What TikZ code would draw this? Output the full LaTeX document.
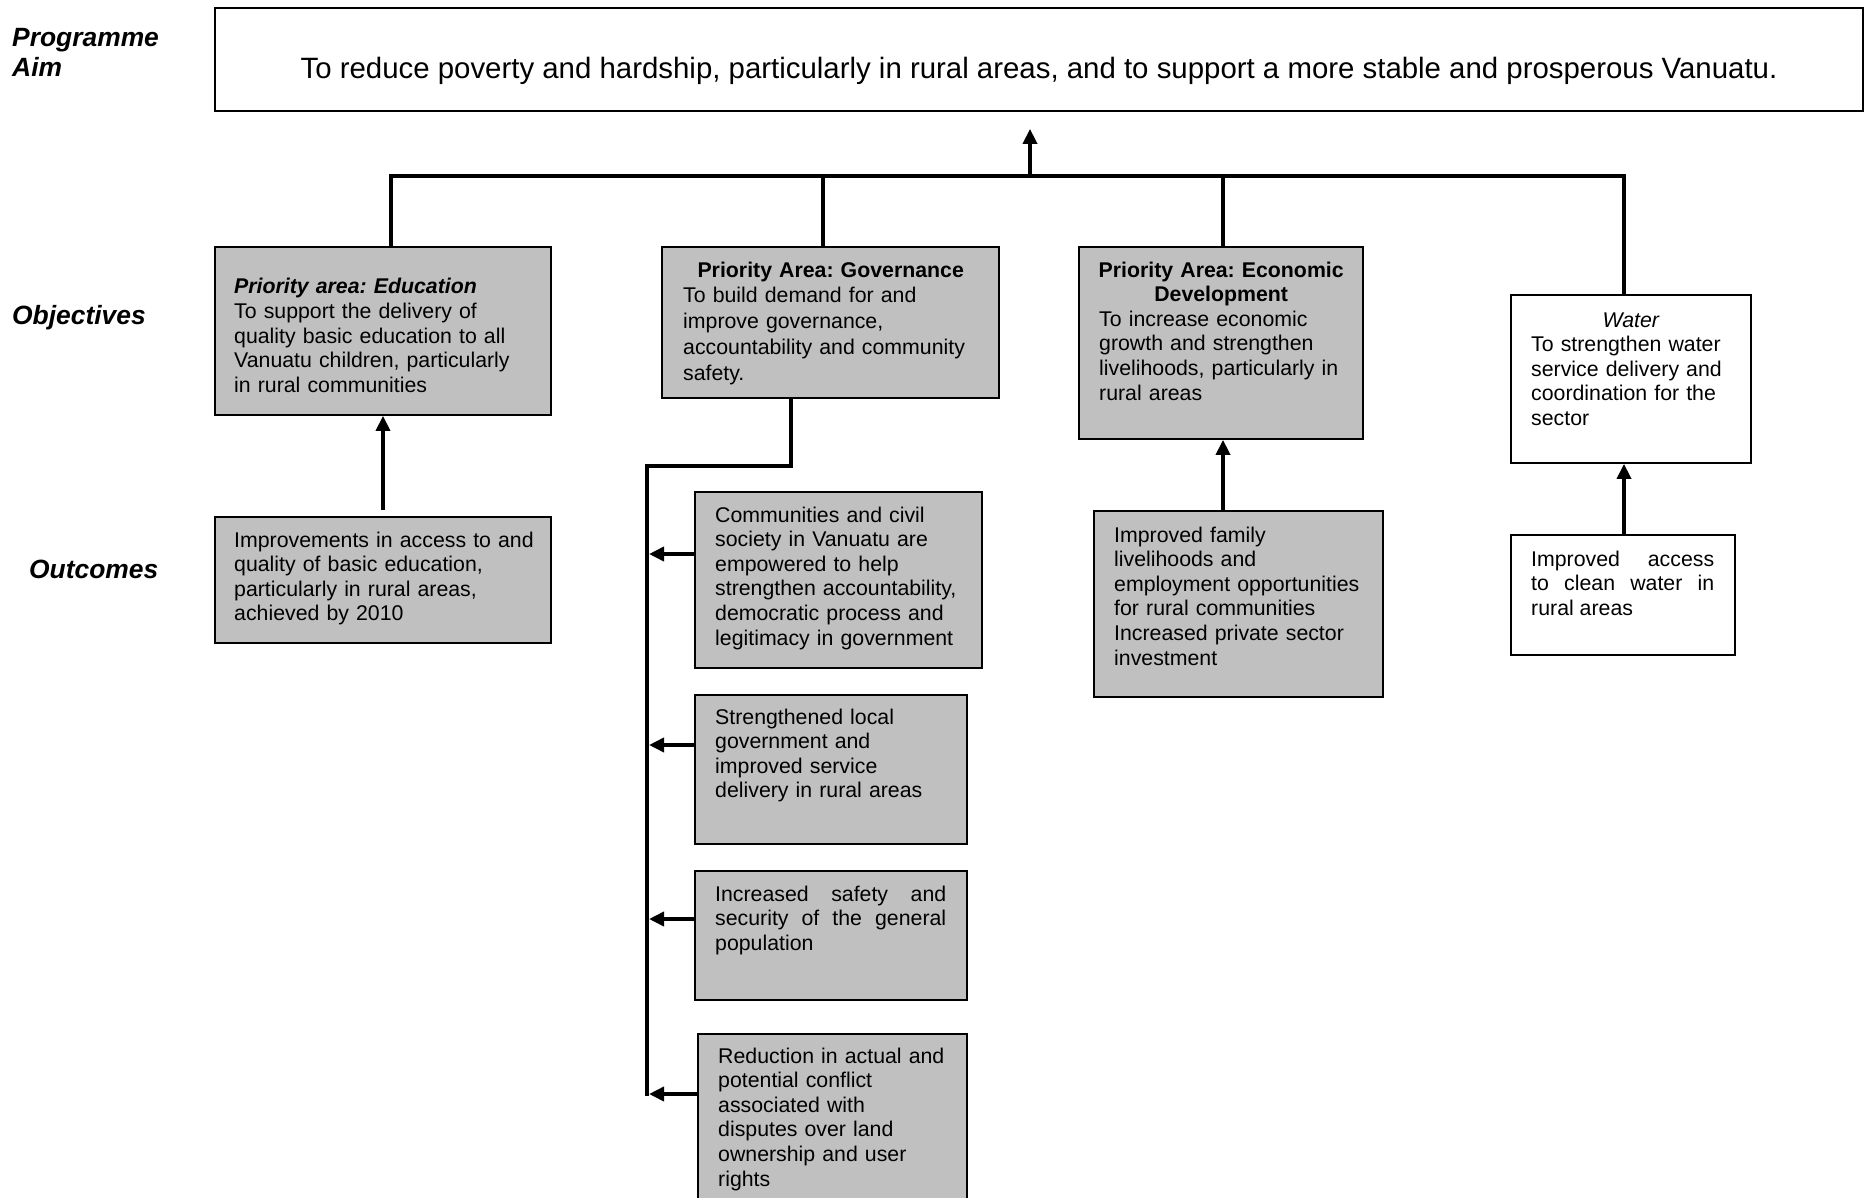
\documentclass[tikz,border=0pt]{standalone}
\usepackage{fontspec}
\setmainfont{Liberation Sans}
\frenchspacing
\usetikzlibrary{arrows.meta,fit}
\definecolor{boxgray}{HTML}{C0C0C0}
\begin{document}
\begin{tikzpicture}[x=1pt,y=-1pt,
  gbox/.style={draw, line width=1.8pt, fill=boxgray, inner sep=0pt},
  wbox/.style={draw, line width=1.8pt, fill=white, inner sep=0pt},
  txt/.style={inner sep=0pt, anchor=base west, text width=340pt, align=left, font=\fontsize{21.3}{24.6}\selectfont\frenchspacing},
  jtxt/.style={inner sep=0pt, anchor=base west, align=justify, font=\fontsize{21.3}{24.6}\selectfont\frenchspacing},
  lab/.style={inner sep=0pt, anchor=base west, text width=190pt, align=left, font=\fontsize{26.4}{30}\selectfont\bfseries\itshape},
  conn/.style={line width=3.6pt},
  arr/.style={line width=3.6pt, -{Triangle[length=15pt,width=14pt]}}]
\clip (0,0) rectangle (1865,1198);
\fill[white] (0,0) rectangle (1865,1198);

% left labels
\node[lab] (lprog) at (12,47) {Programme\\Aim};
\node[lab] (lobj) at (12,324) {Objectives};
\node[lab] (lout) at (29,578) {Outcomes};

% aim
\node[wbox, fit={(215,8) (1863,111)}] (aim) {};
\node[inner sep=0pt, anchor=base, font=\fontsize{29.4}{33}\selectfont] (aimtxt) at (1039,79)
  {To reduce poverty and hardship, particularly in rural areas, and to support a more stable and prosperous Vanuatu.};

% objectives
\node[gbox, fit={(215,247) (551,415)}] (edu) {};
\node[txt] (edut) at (234,294)
  {\textbf{\textit{Priority area: Education}}\\
   To support the delivery of\\
   quality basic education to all\\
   Vanuatu children, particularly\\
   in rural communities};

\node[gbox, fit={(662,247) (999,398)}] (gov) {};
\node[txt, font=\fontsize{21.3}{25.9}\selectfont] (govt) at (683,277)
  {\makebox[295pt][c]{\textbf{Priority Area: Governance}}\\
   To build demand for and\\
   improve governance,\\
   accountability and community\\
   safety.};

\node[gbox, fit={(1079,247) (1363,439)}] (econ) {};
\node[txt] (econt) at (1099,277)
  {\makebox[244pt][c]{\textbf{Priority Area: Economic}}\\
   \makebox[244pt][c]{\textbf{Development}}\\
   To increase economic\\
   growth and strengthen\\
   livelihoods, particularly in\\
   rural areas};

\node[wbox, fit={(1511,295) (1751,463)}] (water) {};
\node[txt] (watert) at (1531,327)
  {\makebox[200pt][c]{\textit{Water}}\\
   To strengthen water\\
   service delivery and\\
   coordination for the\\
   sector};

% outcomes
\node[gbox, fit={(215,517) (551,643)}] (eduout) {};
\node[txt] (eduoutt) at (234,547)
  {Improvements in access to and\\
   quality of basic education,\\
   particularly in rural areas,\\
   achieved by 2010};

\node[gbox, fit={(695,492) (982,668)}] (go1) {};
\node[txt] (go1t) at (715,522)
  {Communities and civil\\
   society in Vanuatu are\\
   empowered to help\\
   strengthen accountability,\\
   democratic process and\\
   legitimacy in government};

\node[gbox, fit={(695,695) (967,844)}] (go2) {};
\node[txt] (go2t) at (715,724)
  {Strengthened local\\
   government and\\
   improved service\\
   delivery in rural areas};

\node[gbox, fit={(695,871) (967,1000)}] (go3) {};
\node[jtxt, text width=231pt] (go3t) at (715,901)
  {Increased safety and\linebreak
   security of the general\linebreak
   population};

\node[gbox, fit={(698,1034) (967,1215)}] (go4) {};
\node[txt] (go4t) at (718,1063)
  {Reduction in actual and\\
   potential conflict\\
   associated with\\
   disputes over land\\
   ownership and user\\
   rights};

\node[gbox, fit={(1094,511) (1383,697)}] (econout) {};
\node[txt] (econoutt) at (1114,542)
  {Improved family\\
   livelihoods and\\
   employment opportunities\\
   for rural communities\\
   Increased private sector\\
   investment};

\node[wbox, fit={(1511,535) (1735,655)}] (waterout) {};
\node[jtxt, text width=183pt] (wateroutt) at (1531,566)
  {Improved access\linebreak
   to clean water in\linebreak
   rural areas};

% connectors
\coordinate (b0) at (1030,176);
\coordinate (b1) at (391,176);
\coordinate (b2) at (823,176);
\coordinate (b3) at (1223,176);
\coordinate (b4) at (1624,176);
\draw[conn] (edu.north -| b1) -- (b1) -- (b4) -- (water.north -| b4);
\draw[conn] (b2) -- (gov.north -| b2);
\draw[conn] (b3) -- (econ.north -| b3);
\draw[arr, shorten >=17pt] (b0) -- (aim.south -| b0);

\draw[arr, shorten <=6pt] (eduout.north) -- (edu.south);
\draw[arr] (econout.north -| b3) -- (econ.south -| b3);
\draw[arr] (waterout.north -| b4) -- (water.south -| b4);

\coordinate (g1) at (791,466);
\coordinate (g2) at (647,466);
\coordinate (g3) at (647,1096);
\draw[conn] (gov.south -| g1) -- (g1) -- (g2) -- (g3);
\coordinate (a1) at (649,554);
\coordinate (a2) at (649,745);
\coordinate (a3) at (649,919);
\coordinate (a4) at (649,1094);
\draw[arr] (go1.west |- a1) -- (a1);
\draw[arr] (go2.west |- a2) -- (a2);
\draw[arr] (go3.west |- a3) -- (a3);
\draw[arr] (go4.west |- a4) -- (a4);
\end{tikzpicture}
\end{document}
